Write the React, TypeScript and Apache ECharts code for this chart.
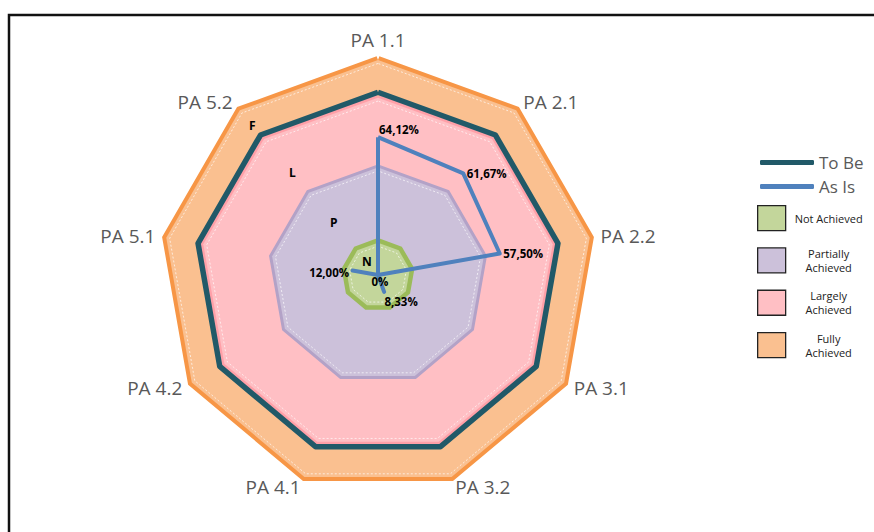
import React, { useEffect, useRef } from 'react';
import * as echarts from 'echarts';

// ---- data ----
const indicators = ['PA 1.1', 'PA 2.1', 'PA 2.2', 'PA 3.1', 'PA 3.2', 'PA 4.1', 'PA 4.2', 'PA 5.1', 'PA 5.2'];
const asIsValues = [64.12, 61.67, 57.5, 0, 8.33, 0, 0, 12.0, 0];
const toBeValues = [85, 85, 85, 85, 85, 85, 85, 85, 85];
const bandNames = ['Fully Achieved', 'Largely Achieved', 'Partially Achieved', 'Not Achieved'];
const bandLevels = [100, 82.5, 50, 15];
const bandLetters = ['F', 'L', 'P', 'N'];
const bandLetterValues = [91, 62, 32, 8];
const letterAxis = 'PA 5.2';

// ---- styling / placement config ----
const bandFill = ['#FAC090', '#FFBFC4', '#CCC1DA', '#C3D69B'];
const bandBorder = ['#F79646', '#FFA0A8', '#B3A2C7', '#9BBB59'];
// area fill is painted over the inner half of each border, so widths are doubled
const bandBorderWidth = [8, 6, 6, 9];
const legendLabels: Record<string, string[]> = {
  'Not Achieved': ['Not Achieved'],
  'Partially Achieved': ['Partially', 'Achieved'],
  'Largely Achieved': ['Largely', 'Achieved'],
  'Fully Achieved': ['Fully', 'Achieved'],
};
const asIsLabelGroups = [
  { axes: ['PA 1.1'], position: 'top', offset: [21, 2] },
  { axes: ['PA 2.1', 'PA 2.2'], position: 'right', offset: [0, 0] },
  { axes: ['PA 3.1'], position: 'bottom', offset: [2, -3] },
  { axes: ['PA 3.2'], position: 'bottom', offset: [17, 0] },
  { axes: ['PA 5.1'], position: 'left', offset: [0, 2] },
];

// ECharts lays radar indicators out counter-clockwise; reference is clockwise
const order = [0, 8, 7, 6, 5, 4, 3, 2, 1];
const reorder = (arr: any[]) => order.map((i) => arr[i]);

const fmtPct = (v: number) => (v === 0 ? '0%' : v.toFixed(2).replace('.', ',') + '%');
const isNum = (v: any) => typeof v === 'number' && !isNaN(v);

export default function App() {
  const ref = useRef<HTMLDivElement>(null);
  useEffect(() => {
    if (!ref.current) return;
    const chart = echarts.init(ref.current, undefined, { renderer: 'svg' });

    const bandSeries = bandNames.map((name, k) => ({
      type: 'radar',
      name,
      color: bandFill[k],
      symbol: 'none',
      silent: true,
      z: 1,
      lineStyle: { color: bandBorder[k], width: bandBorderWidth[k], join: 'miter' },
      areaStyle: { color: bandFill[k], opacity: 1 },
      itemStyle: { color: bandFill[k] },
      data: [{ name, value: reorder(indicators.map(() => bandLevels[k])) }],
    }));

    const dashSeries = bandLevels.map((lvl) => ({
      type: 'radar',
      symbol: 'none',
      silent: true,
      z: 2,
      lineStyle: { color: '#ffffff', width: 0.8, type: [2, 2], opacity: 0.85 },
      data: [{ value: reorder(indicators.map(() => lvl - 1.6)) }],
    }));

    const labelSeries = asIsLabelGroups.map((g) => ({
      type: 'radar',
      symbol: 'circle',
      symbolSize: 1,
      silent: true,
      z: 5,
      itemStyle: { color: 'rgba(0,0,0,0)' },
      lineStyle: { opacity: 0, width: 0 },
      label: {
        show: true,
        position: g.position,
        offset: g.offset,
        distance: 3,
        color: '#000',
        fontFamily: 'Open Sans',
        fontWeight: 'bold',
        fontSize: 11.5,
        formatter: (p: any) => (isNum(p.value) ? fmtPct(p.value) : ''),
      },
      data: [{ value: reorder(indicators.map((ax, i) => (g.axes.includes(ax) ? asIsValues[i] : '-'))) }],
    }));

    const letterSeries = {
      type: 'radar',
      symbol: 'circle',
      symbolSize: 1,
      silent: true,
      z: 5,
      itemStyle: { color: 'rgba(0,0,0,0)' },
      lineStyle: { opacity: 0, width: 0 },
      label: {
        show: true,
        position: 'inside',
        color: '#000',
        fontFamily: 'Open Sans',
        fontWeight: 'bold',
        fontSize: 12,
        formatter: (p: any) => (isNum(p.value) ? p.name : ''),
      },
      data: bandLetters.map((l, k) => ({
        name: l,
        value: reorder(indicators.map((ax) => (ax === letterAxis ? bandLetterValues[k] : '-'))),
      })),
    };

    const option: any = {
      animation: false,
      backgroundColor: '#ffffff',
      radar: {
        center: [378, 275],
        radius: 215,
        startAngle: 90,
        shape: 'polygon',
        splitNumber: 1,
        nameGap: 11,
        indicator: reorder(indicators).map((name: string) => ({ name, min: 0, max: 100 })),
        axisName: { color: '#595959', fontSize: 19, fontFamily: 'Open Sans' },
        splitLine: { show: false },
        splitArea: { show: false },
        axisLine: { show: false },
        axisTick: { show: false },
        axisLabel: { show: false },
      },
      legend: [
        {
          orient: 'vertical',
          left: 760,
          top: 151,
          padding: 0,
          icon: 'roundRect',
          itemWidth: 54,
          itemHeight: 5,
          itemGap: 1,
          itemTextGap: 2,
          selectedMode: false,
          textStyle: { fontSize: 17, lineHeight: 23, color: '#595959', fontFamily: 'Open Sans' },
          data: [
            { name: 'To Be', itemStyle: { color: '#215968' } },
            { name: 'As Is', itemStyle: { color: '#4F81BD' } },
          ],
        },
        {
          orient: 'vertical',
          left: 757,
          top: 205,
          padding: 0,
          icon: 'rect',
          itemWidth: 28,
          itemHeight: 25,
          itemGap: 16,
          itemTextGap: 6,
          selectedMode: false,
          formatter: (name: string) => legendLabels[name].map((s) => `{a|${s}}`).join('\n'),
          textStyle: {
            fontSize: 11,
            color: '#222',
            fontFamily: 'Open Sans',
            rich: { a: { width: 76, align: 'center', fontSize: 11, lineHeight: 14, color: '#222', fontFamily: 'Open Sans' } },
          },
          data: ['Not Achieved', 'Partially Achieved', 'Largely Achieved', 'Fully Achieved'].map((n) => ({
            name: n,
            itemStyle: { color: bandFill[bandNames.indexOf(n)], borderColor: '#222', borderWidth: 1.3 },
          })),
        },
      ],
      graphic: [
        {
          type: 'rect',
          silent: true,
          z: 100,
          shape: { x: 9, y: 15, width: 1000, height: 1000 },
          style: { fill: 'none', stroke: '#111', lineWidth: 2.5 },
        },
      ],
      series: [
        ...bandSeries,
        ...dashSeries,
        {
          type: 'radar',
          name: 'To Be',
          color: '#215968',
          symbol: 'none',
          silent: true,
          z: 3,
          lineStyle: { color: '#215968', width: 5.5 },
          data: [{ name: 'To Be', value: reorder(toBeValues) }],
        },
        {
          type: 'radar',
          name: 'As Is',
          color: '#4F81BD',
          symbol: 'none',
          silent: true,
          z: 4,
          lineStyle: { color: '#4F81BD', width: 4 },
          data: [{ name: 'As Is', value: reorder(asIsValues) }],
        },
        ...labelSeries,
        letterSeries,
      ],
    };
    chart.setOption(option);
    return () => chart.dispose();
  }, []);
  return (
    <div
      ref={ref}
      style={{ position: 'fixed', left: 0, top: 0, width: 874, height: 532, background: '#fff' }}
    />
  );
}
